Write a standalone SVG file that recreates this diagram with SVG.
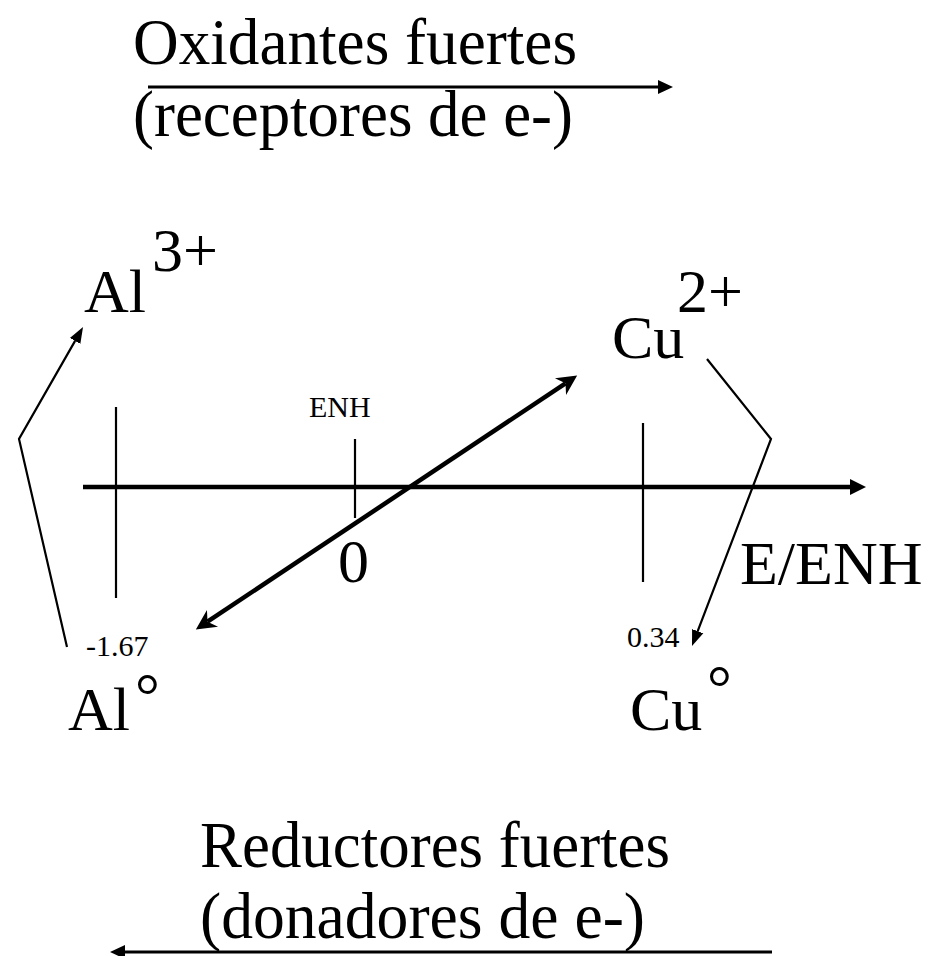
<svg xmlns="http://www.w3.org/2000/svg" width="944" height="956" viewBox="0 0 944 956">
<style>
text{font-family:"Liberation Serif","Times New Roman",serif;fill:#000}
.big{font-size:62px}
.title{font-size:66px}
.small{font-size:30px}
.ln{stroke:#000;fill:none;stroke-linecap:butt;stroke-linejoin:miter}
.thick{stroke-width:4.5}
.med{stroke-width:3}
.thin{stroke-width:2.2}
</style>
<defs>
<marker id="ahL" markerUnits="userSpaceOnUse" markerWidth="20" markerHeight="20" viewBox="0 -10 20 20" refX="0" refY="0" orient="auto-start-reverse">
<path d="M0,-8 L16,0 L0,8 z" fill="#000"/>
</marker>
<marker id="ahM" markerUnits="userSpaceOnUse" markerWidth="20" markerHeight="20" viewBox="0 -10 20 20" refX="0" refY="0" orient="auto-start-reverse">
<path d="M0,-7 L15,0 L0,7 z" fill="#000"/>
</marker>
<marker id="ahN" markerUnits="userSpaceOnUse" markerWidth="26" markerHeight="26" viewBox="0 -13 26 26" refX="6" refY="0" orient="auto-start-reverse">
<path d="M0,-10 L20,0 L0,10 L6,0 z" fill="#000"/>
</marker>
<marker id="ahS" markerUnits="userSpaceOnUse" markerWidth="20" markerHeight="20" viewBox="0 -10 20 20" refX="0" refY="0" orient="auto">
<path d="M0,-6 L16,0 L0,6 z" fill="#000"/>
</marker>
</defs>

<g id="titulo-oxidantes">
<text class="title" x="133" y="64" textLength="444" lengthAdjust="spacingAndGlyphs">Oxidantes fuertes</text>
<text class="title" x="133" y="136" textLength="440" lengthAdjust="spacingAndGlyphs">(receptores de e-)</text>
</g>

<g id="titulo-reductores">
<text class="title" x="200" y="867" textLength="470" lengthAdjust="spacingAndGlyphs">Reductores fuertes</text>
<text class="title" x="200" y="938" textLength="445" lengthAdjust="spacingAndGlyphs">(donadores de e-)</text>
</g>

<g id="al3">
<text class="big" x="84" y="312">Al</text>
<text class="big" x="152" y="271">3+</text>
</g>

<g id="cu2">
<text class="big" x="612" y="358">Cu</text>
<text class="big" x="677" y="312">2+</text>
</g>

<g id="al0">
<text class="big" x="68" y="730">Al</text>
<text class="big" x="135" y="716">°</text>
</g>

<g id="cu0">
<text class="big" x="630" y="730">Cu</text>
<text class="big" x="707" y="708">°</text>
</g>

<g id="etiquetas">
<text class="small" x="86" y="656">-1.67</text>
<text class="small" x="627" y="647">0.34</text>
<text style="font-size:30px" x="309" y="417">ENH</text>
<text class="big" x="338" y="582">0</text>
<text class="big" x="740" y="584">E/ENH</text>
</g>

<g id="connectors">
<line class="ln med" x1="148" y1="87" x2="658" y2="87" marker-end="url(#ahM)"/>
<line class="ln med" x1="772" y1="952" x2="125" y2="952" marker-end="url(#ahM)"/>
<line class="ln thick" x1="83" y1="487" x2="850" y2="487" marker-end="url(#ahL)"/>
<line class="ln thin" x1="116" y1="407" x2="116" y2="598"/>
<line class="ln thin" x1="355" y1="439" x2="355" y2="518"/>
<line class="ln thin" x1="643" y1="423" x2="643" y2="582"/>
<line class="ln thick" x1="207.5" y1="621.7" x2="565.5" y2="383.3" marker-start="url(#ahN)" marker-end="url(#ahN)"/>
<polyline class="ln thin" points="67,647 19,439 75.1,340.9" marker-end="url(#ahS)"/>
<polyline class="ln thin" points="707,359 771,439 697.7,631.1" marker-end="url(#ahS)"/>
</g>
</svg>
